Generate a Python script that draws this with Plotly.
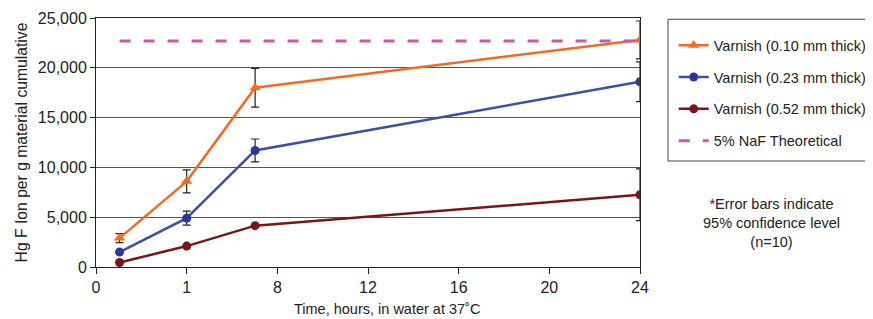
import plotly.graph_objects as go

# Axis positions (equally spaced tick slots labelled with hours)
tick_pos = [0, 1, 2, 3, 4, 5, 6]
tick_labels = ["0", "1", "8", "12", "16", "20", "24"]

# sampling positions on the x axis
x_pos = [0.26, 1.0, 1.755, 6.0]

varnish_010 = [2900, 8600, 18000, 22800]
varnish_010_err = [450, 1150, 1950, 1900]

varnish_023 = [1500, 4900, 11700, 18600]
varnish_023_err = [0, 700, 1150, 2000]

varnish_052 = [450, 2100, 4150, 7250]
varnish_052_err = [0, 0, 0, 2600]

naf_x = [0.26, 6.0]
naf_theoretical = [22700, 22700]

FONT = "Liberation Sans, Arial, sans-serif"
TXT = "#222222"

fig = go.Figure()

err_style = dict(type="data", visible=True, color="#222222", thickness=1.2, width=4)

fig.add_trace(go.Scatter(
    x=x_pos, y=varnish_010, mode="lines+markers", name="Varnish (0.10 mm thick)",
    legendgroup="a",
    line=dict(color="#f26b22", width=2.5),
    marker=dict(symbol="triangle-up", size=10, color="#f26b22"),
    error_y=dict(array=varnish_010_err, **err_style),
))
fig.add_trace(go.Scatter(
    x=x_pos, y=varnish_023, mode="lines+markers", name="Varnish (0.23 mm thick)",
    legendgroup="b",
    line=dict(color="#3b4fa6", width=2.5),
    marker=dict(symbol="circle", size=9, color="#2c3896"),
    error_y=dict(array=varnish_023_err, **err_style),
))
fig.add_trace(go.Scatter(
    x=x_pos, y=varnish_052, mode="lines+markers", name="Varnish (0.52 mm thick)",
    legendgroup="c",
    line=dict(color="#7a1517", width=2.5),
    marker=dict(symbol="circle", size=9, color="#7a1517"),
    error_y=dict(array=varnish_052_err, **err_style),
))
fig.add_trace(go.Scatter(
    x=naf_x, y=naf_theoretical, mode="lines", name="5% NaF Theoretical",
    legendgroup="d",
    line=dict(color="#c45ca9", width=3, dash="11px,13px"),
))

# legend frame
fig.add_shape(
    type="rect", xref="paper", yref="paper",
    x0=1.0515, x1=1.45, y0=0.4257, y1=0.995,
    line=dict(color="#444444", width=1), fillcolor="rgba(0,0,0,0)",
)

fig.add_annotation(
    xref="paper", yref="paper", x=1.2426, y=0.178, xanchor="center", yanchor="middle",
    text="*Error bars indicate<br>95% confidence level<br>(n=10)",
    showarrow=False, align="center",
    font=dict(family=FONT, size=14.5, color=TXT),
)

# x axis title (placed slightly right of centre, as in the original)
fig.add_annotation(
    xref="paper", yref="paper", x=0.535, y=-0.169, xanchor="center", yanchor="middle",
    text="Time, hours, in water at 37˚C",
    showarrow=False,
    font=dict(family=FONT, size=14.5, color=TXT),
)

# the page body adds an 8px offset; figure size and margins compensate for it
fig.update_layout(
    width=865, height=311,
    margin=dict(l=88, r=233, t=10, b=52, autoexpand=False),
    paper_bgcolor="white", plot_bgcolor="white",
    font=dict(family=FONT, size=16, color=TXT),
    showlegend=True,
    legend=dict(
        x=1.062, y=0.955, xanchor="left", yanchor="top",
        borderwidth=0, bgcolor="rgba(0,0,0,0)",
        font=dict(family=FONT, size=14.5, color=TXT),
        traceorder="grouped", tracegroupgap=10,
    ),
    xaxis=dict(
        range=[0, 6], tickmode="array", tickvals=tick_pos, ticktext=tick_labels,
        showgrid=False, zeroline=False,
        showline=True, linecolor="#222222", linewidth=1, mirror=True,
        ticks="outside", ticklen=6, tickcolor="#222222",
        tickfont=dict(size=16),
    ),
    yaxis=dict(
        range=[0, 25000], tickvals=[0, 5000, 10000, 15000, 20000, 25000],
        tickformat=",d",
        showgrid=True, gridcolor="#555555", gridwidth=1, zeroline=False,
        showline=True, linecolor="#222222", linewidth=1, mirror=True,
        ticks="outside", ticklen=5, tickcolor="#222222",
        tickfont=dict(size=16),
        title=dict(text="Hg F Ion per g material cumulative", font=dict(size=15.7), standoff=6),
    ),
)

fig.write_html("out.html")
